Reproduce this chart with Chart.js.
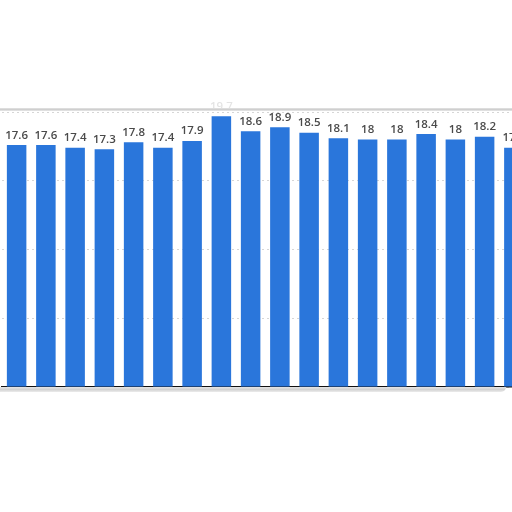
<!DOCTYPE html>
<html>
<head>
<meta charset="utf-8">
<script src="https://cdn.jsdelivr.net/npm/chart.js@4"></script>
<style>
  html, body { margin:0; padding:0; background:#fff; width:512px; height:512px; overflow:hidden; }
  #wrap { position:absolute; left:0; top:0; width:540px; height:512px; }
  #fade { position:absolute; left:0; top:0; width:512px; height:109px; background:rgba(255,255,255,0.85); }
  #topline { position:absolute; left:0; top:108px; width:512px; height:3px; background:linear-gradient(#e4e4e4,#cfcfcf,#e8e8e8); }
  #shadow { position:absolute; left:0; top:387px; width:506px; height:5px; background:linear-gradient(#e6e6e6,#d2d2d2,#ececec); border-bottom-right-radius:8px; }
</style>
</head>
<body>
<div id="wrap"><canvas id="c" width="540" height="512"></canvas></div>
<div id="fade"></div>
<div id="topline"></div>
<div id="shadow"></div>
<script>
const categories = ['1','2','3','4','5','6','7','8','9','10','11','12','13','14','15','16','17','18'];
const values = [17.6, 17.6, 17.4, 17.3, 17.8, 17.4, 17.9, 19.7, 18.6, 18.9, 18.5, 18.1, 18, 18, 18.4, 18, 18.2, 17.4];
const yTicks = [0, 5, 10, 15, 20];

const labelPlugin = {
  id: 'valueLabels',
  afterDatasetsDraw(chart) {
    const ctx = chart.ctx;
    const meta = chart.getDatasetMeta(0);
    ctx.save();
    ctx.font = '600 11.5px "Open Sans", "Liberation Sans", Arial, sans-serif';
    ctx.fillStyle = '#4a4a4a';
    ctx.textAlign = 'center';
    ctx.textBaseline = 'bottom';
    meta.data.forEach((bar, i) => {
      ctx.fillText(String(values[i]), bar.x, bar.y - 4);
    });
    ctx.restore();
  }
};

new Chart(document.getElementById('c'), {
  type: 'bar',
  data: {
    labels: categories,
    datasets: [{
      data: values,
      backgroundColor: '#2a76db',
      borderWidth: 0,
      categoryPercentage: 1,
      barPercentage: 0.667
    }]
  },
  options: {
    responsive: false,
    animation: false,
    layout: { padding: { left: 2, right: 11.5, top: 112, bottom: 117 } },
    plugins: { legend: { display: false }, tooltip: { enabled: false } },
    scales: {
      x: {
        ticks: { display: false },
        grid: { display: false },
        border: { display: true, color: '#111', width: 1.5 }
      },
      y: {
        min: 0, max: 20,
        afterBuildTicks(axis) { axis.ticks = yTicks.map(v => ({ value: v })); },
        ticks: { display: false },
        grid: { color: '#d6d6d6', lineWidth: 1, drawTicks: false },
        border: { display: false, dash: [2, 3] }
      }
    }
  },
  plugins: [labelPlugin]
});
</script>
</body>
</html>
